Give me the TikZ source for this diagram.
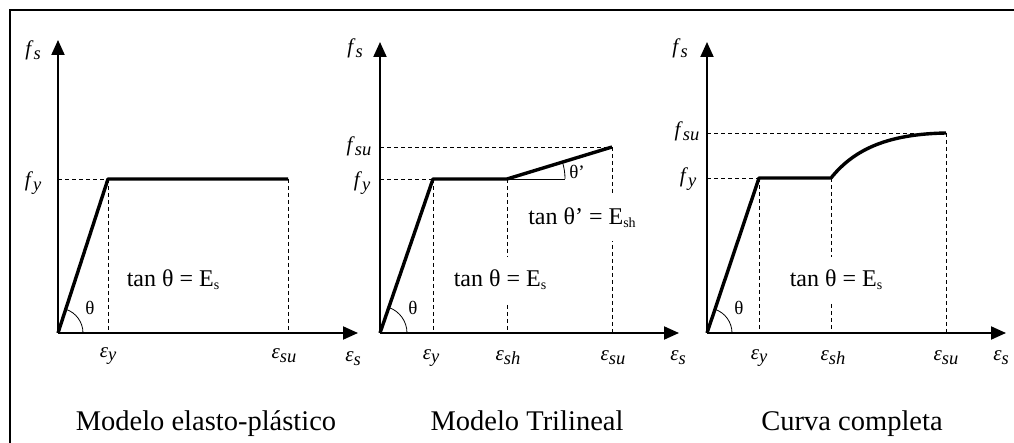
\documentclass[tikz,border=0pt]{standalone}
\usepackage{fontspec}
\setmainfont{Liberation Serif}
\usetikzlibrary{arrows.meta}
\newcommand\symb[2]{\textit{#1}\raisebox{-0.4ex}{\fontsize{18.5}{19}\selectfont\textit{#2}}}
\newcommand\subE[1]{\raisebox{-0.3ex}{\fontsize{14}{14}\selectfont #1}}
\begin{document}
\begin{tikzpicture}[x=1pt,y=-1pt,
  axis/.style={line width=2pt,-{Triangle[length=15pt,width=13pt]}},
  curve/.style={line width=3.4pt,line join=round},
  guide/.style={line width=0.9pt,dash pattern=on 4pt off 3pt},
  thinl/.style={line width=0.8pt},
  axlbl/.style={font=\fontsize{21}{23}\selectfont,inner sep=0pt},
  eqlbl/.style={font=\fontsize{24}{26}\selectfont,fill=white,inner xsep=2pt,inner ysep=13pt},
  thlbl/.style={font=\fontsize{19}{21}\selectfont,inner sep=0pt},
  ttl/.style={font=\fontsize{28.5}{31}\selectfont,inner sep=0pt,anchor=base}]
\useasboundingbox (0,0) rectangle (1014,443);
\fill[white] (0,0) rectangle (1014,443);
% frame
\coordinate (fbl) at (10,445);
\coordinate (ftl) at (10,10);
\coordinate (ftr) at (1016,10);
\draw[line width=2.2pt] (fbl) -- (ftl) -- (ftr);

% ================= Panel 1 =================
\coordinate (O1) at (58,333);
\coordinate (Y1) at (58,40);
\coordinate (X1) at (358,333);
\coordinate (A1) at (108,179);
\coordinate (B1) at (288,179);
\coordinate (A1y) at (58,179);
\coordinate (A1x) at (108,333);
\coordinate (B1x) at (288,333);
\draw[guide] (A1y) -- (A1);
\draw[guide] (A1) -- (A1x);
\draw[guide] (B1) -- (B1x);
\draw[axis] (O1) -- (Y1);
\draw[axis] (O1) -- (X1);
\draw[curve] (O1) -- (A1) -- (B1);
\draw[thinl] (O1) ++(25pt,0pt) arc[start angle=0,end angle=72,radius=25pt];
\node[axlbl] (fs1) at (33,50) {\symb{f}{s}};
\node[axlbl] (fy1) at (33,183) {\symb{f}{y}};
\node[axlbl] (ey1) at (108,356) {\symb{ε}{y}};
\node[axlbl] (esu1) at (284,356) {\symb{ε}{su}};
\node[axlbl] (es1) at (353,359) {\symb{ε}{s}};
\node[eqlbl] (tan1) at (173,280) {tan θ = E\subE{s}};
\node[thlbl] (th1) at (90,308) {θ};
\node[ttl] (t1) at (206,430) {Modelo elasto-plástico};

% ================= Panel 2 =================
\coordinate (O2) at (380,333);
\coordinate (Y2) at (380,42);
\coordinate (X2) at (679,333);
\coordinate (A2) at (433,179);
\coordinate (S2) at (507,179);
\coordinate (U2) at (612,147);
\coordinate (A2y) at (380,179);
\coordinate (U2y) at (380,147);
\coordinate (A2x) at (433,333);
\coordinate (S2x) at (507,333);
\coordinate (U2x) at (612,333);
\coordinate (S2e) at (565,179);
\draw[guide] (A2y) -- (A2);
\draw[guide] (U2y) -- (U2);
\draw[guide] (A2) -- (A2x);
\draw[guide] (S2) -- (S2x);
\draw[guide] (U2) -- (U2x);
\draw[thinl] (S2) -- (S2e);
\draw[thinl] (S2) ++(58pt,0pt) arc[start angle=0,end angle=17,radius=58pt];
\node[eqlbl] (tan2b) at (582,218) {tan θ’ = E\subE{sh}};
\node[eqlbl] (tan2) at (500,280) {tan θ = E\subE{s}};
\draw[axis] (O2) -- (Y2);
\draw[axis] (O2) -- (X2);
\draw[curve] (O2) -- (A2) -- (S2) -- (U2);
\draw[thinl] (O2) ++(27pt,0pt) arc[start angle=0,end angle=71,radius=27pt];
\node[axlbl] (fs2) at (355,48) {\symb{f}{s}};
\node[axlbl] (fsu2) at (359,146) {\symb{f}{su}};
\node[axlbl] (fy2) at (362,183) {\symb{f}{y}};
\node[axlbl] (ey2) at (431,358) {\symb{ε}{y}};
\node[axlbl] (esh2) at (508,358) {\symb{ε}{sh}};
\node[axlbl] (esu2) at (613,358) {\symb{ε}{su}};
\node[axlbl] (es2) at (678,358) {\symb{ε}{s}};
\node[thlbl] (thp2) at (577,172) {θ’};
\node[thlbl] (th2) at (413,308) {θ};
\node[ttl] (t2) at (527,430) {Modelo Trilineal};

% ================= Panel 3 =================
\coordinate (O3) at (707,333);
\coordinate (Y3) at (707,42);
\coordinate (X3) at (1006,333);
\coordinate (A3) at (759,178);
\coordinate (S3) at (831,178);
\coordinate (U3) at (946,133);
\coordinate (A3y) at (707,178);
\coordinate (U3y) at (707,133);
\coordinate (A3x) at (759,333);
\coordinate (S3x) at (831,333);
\coordinate (U3x) at (946,333);
\draw[guide] (A3y) -- (A3);
\draw[guide] (U3y) -- (U3);
\draw[guide] (A3) -- (A3x);
\draw[guide] (S3) -- (S3x);
\draw[guide] (U3) -- (U3x);
\node[eqlbl] (tan3) at (836,280) {tan θ = E\subE{s}};
\draw[axis] (O3) -- (Y3);
\draw[axis] (O3) -- (X3);
\draw[curve] (O3) -- (A3) -- (S3) .. controls (855,148) and (890,134) .. (U3);
\draw[thinl] (O3) ++(25pt,0pt) arc[start angle=0,end angle=71,radius=25pt];
\node[axlbl] (fs3) at (680,48) {\symb{f}{s}};
\node[axlbl] (fsu3) at (687,131) {\symb{f}{su}};
\node[axlbl] (fy3) at (688,179) {\symb{f}{y}};
\node[axlbl] (ey3) at (759,358) {\symb{ε}{y}};
\node[axlbl] (esh3) at (833,358) {\symb{ε}{sh}};
\node[axlbl] (esu3) at (946,358) {\symb{ε}{su}};
\node[axlbl] (es3) at (1001,358) {\symb{ε}{s}};
\node[thlbl] (th3) at (739,308) {θ};
\node[ttl] (t3) at (852,430) {Curva completa};
\end{tikzpicture}
\end{document}
